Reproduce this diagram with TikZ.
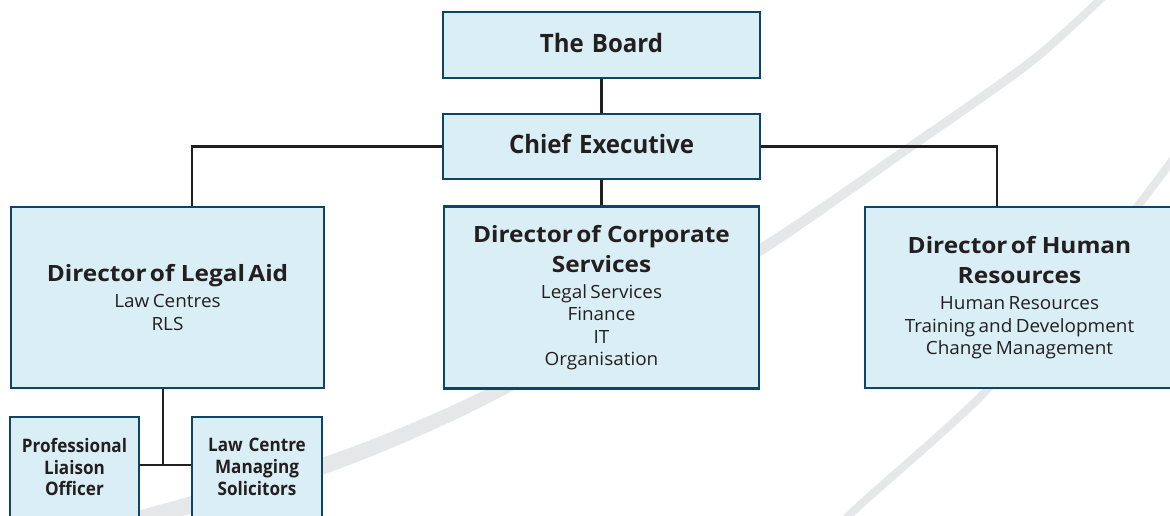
\documentclass[tikz,border=0pt]{standalone}
\usepackage{fontspec}
\setmainfont{Open Sans}
\newfontfamily\topfam[FakeStretch=0.95,WordSpace=1.3]{Open Sans}
\newfontfamily\dirfam[FakeStretch=1.09,WordSpace=1.8]{Open Sans}
\newfontfamily\subfam[FakeStretch=1.04,WordSpace=1.4]{Open Sans}
\newfontfamily\smbfam[FakeStretch=0.92,WordSpace=1.3]{Open Sans}
\definecolor{boxfill}{HTML}{DAEEF5}
\definecolor{boxline}{HTML}{0E4468}
\definecolor{connc}{HTML}{231F20}
\definecolor{arcc}{HTML}{E6E7E8}
\newcommand\topfont{\topfam\fontsize{25.3}{30}\selectfont\bfseries}
\newcommand\dirfont{\dirfam\fontsize{22.4}{30}\selectfont\bfseries}
\newcommand\subfont{\subfam\fontsize{18.2}{22.3}\selectfont\mdseries}
\newcommand\smbfont{\smbfam\fontsize{18.6}{21.7}\selectfont\bfseries}
\newcommand\ofsp{of\hspace{3pt} }
\tikzset{
  box/.style={draw=boxline, line width=2.6pt, fill=boxfill, inner sep=0pt,
    text=connc, align=center, rectangle},
  topbox/.style={box, minimum width=317pt, font=\topfont, text depth=5pt},
  dirbox/.style={box},
  conn/.style={draw=connc, line width=2.6pt},
}
\begin{document}
\begin{tikzpicture}[x=1pt,y=-1pt]
\useasboundingbox (0,0) rectangle (1170,515);
\clip (0,0) rectangle (1170,515);
% background arcs
\fill[arcc] plot[smooth] coordinates {(140,510.2) (320,458.4) (457,403.3) (620,320.3) (760,243.5) (913,139.5) (1033,54.5) (1110,-15.4)}
  -- plot[smooth] coordinates {(1110,-4.6) (1033,65.5) (913,150.5) (760,256.5) (620,333.8) (457,418.8) (320,475.6) (140,527.8)} -- cycle;
\draw[arcc, line width=8pt] plot[smooth] coordinates {(830,535) (860,505) (980,397) (1060,303) (1137,207) (1185,143)};
% boxes
\node[topbox, minimum height=66pt] (board) at (601.5,45) {The Board};
\node[topbox, minimum height=65pt] (ceo) at (601.5,146.5) {Chief Executive};
\node[dirbox, text width=313pt, minimum height=181pt] (legal) at (167.5,297.5)
  {{\dirfont Director \ofsp Legal Aid\par}\vspace{4pt}{\subfont Law Centres\\RLS\par}};
\node[dirbox, text width=315pt, minimum height=182pt] (corp) at (601.5,297.5)
  {{\dirfont Director \ofsp Corporate\\Services\par}\vspace{4pt}{\subfont Legal Services\\Finance\\IT\\Organisation\par}};
\node[dirbox, text width=309pt, minimum height=181pt] (hr) at (1019.5,297.5)
  {{\dirfont Director \ofsp Human\\Resources\par}\vspace{4pt}{\subfont Human Resources\\Training and Development\\Change Management\par}};
\node[box, minimum width=129pt, minimum height=100pt, font=\smbfont] (pla) at (74.5,467)
  {Professional\\Liaison\\Officer};
\node[box, minimum width=130pt, minimum height=100pt, font=\smbfont] (lcm) at (257,467)
  {Law Centre\\Managing\\Solicitors};
% connectors
\coordinate (j) at (163,465);
\draw[conn] (board.south) -- (ceo.north);
\draw[conn] (ceo.south) -- (corp.north);
\draw[conn] (ceo.west) -| ([xshift=24.5pt]legal.north);
\draw[conn] (ceo.east) -| ([xshift=-22.5pt]hr.north);
\draw[conn] (legal.south -| j) -- (j);
\draw[conn] (j -| pla.east) -- (j -| lcm.west);
\end{tikzpicture}
\end{document}
